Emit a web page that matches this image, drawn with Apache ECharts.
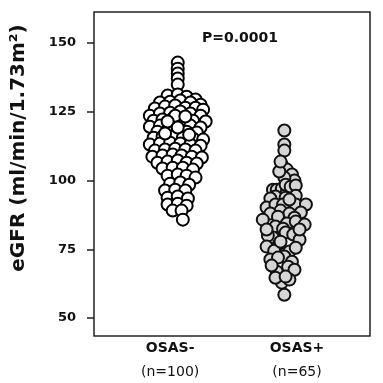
<!DOCTYPE html>
<html>
<head>
<meta charset="utf-8">
<script src="https://cdn.jsdelivr.net/npm/echarts@6/dist/echarts.min.js"></script>
<style>
  html, body { margin: 0; padding: 0; background: #fff; }
  #chart { width: 383px; height: 383px; }
</style>
</head>
<body>
<div id="chart"></div>
<script>
// groups on the x axis
const groups = ['OSAS-', 'OSAS+']
const groupN = ['(n=100)', '(n=65)']
const yTicks = [50, 75, 100, 125, 150]
const pText = 'P=0.0001'

// OSAS- : eGFR values and horizontal spread (beeswarm offset from the group position)
const negValues = [
  142.9, 140.7, 138.9, 137.1, 134.9,
  130.9, 131.3, 130.5, 129.5,
  128.4, 128.7, 129.1, 128.4, 127.6,
  126.2, 126.9, 127.3, 126.5, 126.5, 125.8,
  123.6, 124.4, 124.7, 125.1, 124.4, 123.6,
  121.8, 122.2, 122.5, 122.5, 121.8, 121.5,
  119.6, 120.0, 120.4, 120.7, 120.0, 119.3,
  117.8, 118.2, 118.5, 117.8, 117.5,
  115.6, 116.0, 116.0, 115.6, 115.3, 114.9,
  113.1, 113.5, 113.8, 113.5, 113.1, 112.7,
  110.9, 111.3, 111.6, 111.3, 110.9,
  108.7, 109.1, 109.5, 109.1, 108.7, 108.4,
  106.5, 106.9, 107.3, 106.5, 106.2,
  104.4, 104.7, 104.7, 104.0,
  101.8, 102.2, 101.8, 101.1,
  98.9, 99.3, 98.5,
  96.4, 96.7, 96.4,
  93.8, 94.2, 93.5,
  91.3, 91.6, 90.9,
  89.1, 89.1,
  85.8,
  123.6, 123.3, 121.5, 119.3, 117.1, 116.7
]
const negSpread = [
  0.06, 0.06, 0.06, 0.06, 0.06,
  -0.02, 0.06, 0.13, 0.20,
  -0.08, 0.00, 0.08, 0.16, 0.24,
  -0.12, -0.04, 0.04, 0.12, 0.20, 0.26,
  -0.16, -0.08, 0.00, 0.08, 0.16, 0.24,
  -0.13, -0.06, 0.02, 0.10, 0.18, 0.28,
  -0.16, -0.08, 0.00, 0.08, 0.16, 0.24,
  -0.10, -0.02, 0.06, 0.13, 0.21,
  -0.13, -0.06, 0.02, 0.10, 0.18, 0.26,
  -0.16, -0.08, 0.00, 0.08, 0.16, 0.24,
  -0.12, -0.04, 0.04, 0.12, 0.20,
  -0.14, -0.06, 0.02, 0.09, 0.17, 0.25,
  -0.10, -0.02, 0.06, 0.13, 0.21,
  -0.06, 0.02, 0.10, 0.18,
  -0.02, 0.06, 0.13, 0.20,
  0.00, 0.08, 0.15,
  -0.04, 0.04, 0.12,
  -0.02, 0.06, 0.14,
  -0.02, 0.06, 0.13,
  0.02, 0.09,
  0.10,
  0.04, 0.12, -0.02, 0.06, -0.04, 0.15
]

// OSAS+
const posValues = [
  118.2, 113.1, 110.9,
  105.8, 104.0, 102.2, 100.0, 101.1, 103.3,
  96.7, 96.7, 97.1, 96.0, 98.5, 97.8, 98.2,
  94.2, 93.8, 94.5, 93.5,
  90.2, 91.3, 91.3, 91.3, 91.3, 89.1,
  88.0, 88.0, 88.4, 86.9, 86.5,
  85.8, 83.3, 84.4, 85.1, 84.0, 82.5,
  79.3, 81.1, 80.4, 80.0, 78.5,
  76.0, 77.1, 74.2, 75.6, 74.5,
  71.3, 72.4, 70.5, 72.0,
  66.9, 68.7, 69.1, 67.6,
  62.9, 64.0, 64.7, 65.1,
  58.5,
  106.9, 93.1, 77.8, 82.2, 82.2
]
const posSpread = [
  -0.10, -0.10, -0.10,
  -0.12, -0.08, -0.04, -0.02, -0.10, -0.14,
  -0.19, -0.16, -0.12, -0.08, -0.09, -0.05, -0.01,
  -0.17, -0.09, -0.01, -0.21,
  -0.24, -0.17, -0.11, -0.01, 0.07, -0.13,
  -0.21, -0.06, 0.03, -0.15, -0.02,
  -0.27, -0.17, -0.08, -0.01, 0.06, -0.11,
  -0.19, -0.09, -0.03, -0.23, 0.02,
  -0.24, -0.14, -0.06, -0.01, -0.18,
  -0.21, -0.10, -0.04, -0.15,
  -0.16, -0.07, -0.20, -0.02,
  -0.12, -0.06, -0.17, -0.09,
  -0.10,
  -0.13, -0.06, -0.13, 0.02, -0.24
]

const boldFont = 'DejaVu Sans'
const myChart = echarts.init(document.getElementById('chart'))

myChart.setOption({
  animation: false,
  grid: {
    left: 94,
    right: 13,
    top: 12,
    bottom: 47,
    show: true,
    borderColor: '#222',
    borderWidth: 1.5
  },
  xAxis: {
    type: 'value',
    min: 0.4,
    max: 2.575,
    axisLine: { show: false },
    axisTick: { show: false },
    splitLine: { show: false },
    axisLabel: {
      customValues: [1, 2],
      margin: 2,
      formatter: function (v) {
        const i = Math.round(v) - 1
        return '{a|' + groups[i] + '}\n{b|' + groupN[i] + '}'
      },
      rich: {
        a: {
          fontFamily: boldFont,
          fontWeight: 'bold',
          fontSize: 14,
          color: '#111',
          lineHeight: 20
        },
        b: {
          fontFamily: boldFont,
          fontSize: 14,
          color: '#111',
          lineHeight: 28
        }
      }
    }
  },
  yAxis: {
    type: 'value',
    min: 43.5,
    max: 161.3,
    axisLine: { show: false },
    splitLine: { show: false },
    axisTick: {
      show: true,
      customValues: yTicks,
      length: 7,
      lineStyle: { color: '#222', width: 1.5 }
    },
    axisLabel: {
      customValues: yTicks,
      margin: 18,
      fontFamily: boldFont,
      fontWeight: 'bold',
      fontSize: 13,
      color: '#111'
    }
  },
  graphic: [
    {
      type: 'text',
      x: 19,
      y: 148,
      rotation: Math.PI / 2,
      style: {
        text: 'eGFR (ml/min/1.73m²)',
        fontFamily: boldFont,
        fontWeight: 'bold',
        fontSize: 20,
        fill: '#111',
        align: 'center',
        verticalAlign: 'middle'
      }
    },
    {
      type: 'text',
      x: 240,
      y: 38,
      style: {
        text: pText,
        fontFamily: boldFont,
        fontWeight: 'bold',
        fontSize: 14,
        fill: '#111',
        align: 'center',
        verticalAlign: 'middle'
      }
    }
  ],
  series: [
    {
      type: 'scatter',
      symbolSize: 12,
      data: negValues.map((v, i) => [1 + negSpread[i], v]),
      itemStyle: {
        color: '#fff',
        borderColor: '#000',
        borderWidth: 2,
        opacity: 1
      }
    },
    {
      type: 'scatter',
      symbolSize: 12,
      data: posValues.map((v, i) => [2 + posSpread[i], v]),
      itemStyle: {
        color: '#d6d6d6',
        borderColor: '#111',
        borderWidth: 2,
        opacity: 1
      }
    }
  ]
})
</script>
</body>
</html>
